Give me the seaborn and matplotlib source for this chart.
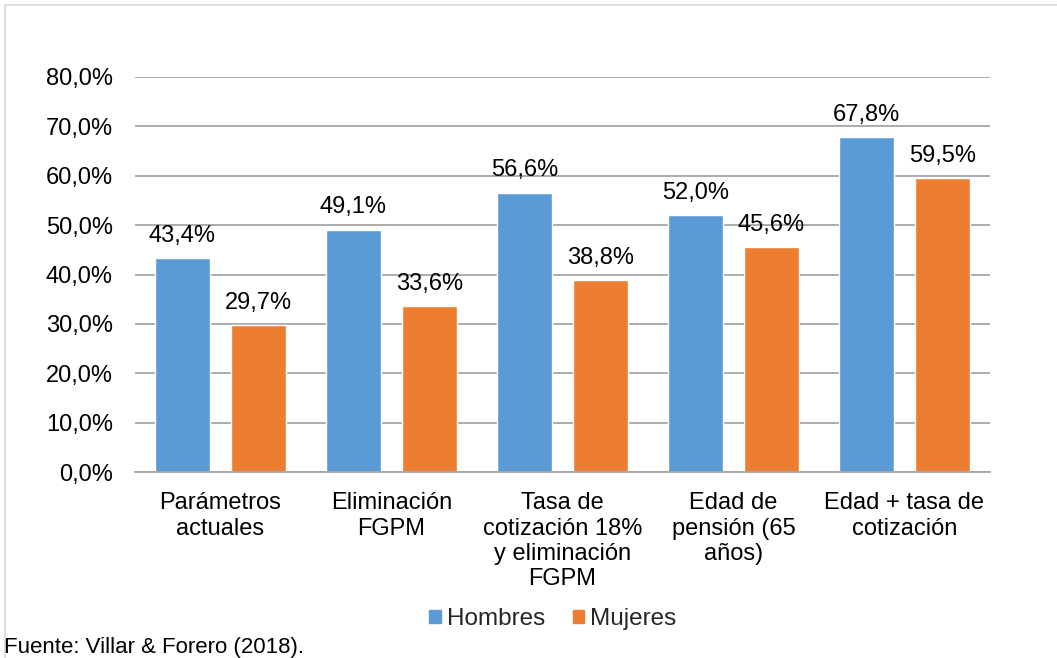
import matplotlib
matplotlib.use("Agg")
import matplotlib.pyplot as plt
import seaborn as sns
import pandas as pd
from matplotlib.patches import Rectangle
from matplotlib.lines import Line2D
from matplotlib.ticker import FuncFormatter, MultipleLocator

categories = ["Parámetros\nactuales", "Eliminación\nFGPM",
              "Tasa de\ncotización 18%\ny eliminación\nFGPM",
              "Edad de\npensión (65\naños)", "Edad + tasa de\ncotización"]
hombres = [43.4, 49.1, 56.6, 52.0, 67.8]
mujeres = [29.7, 33.6, 38.8, 45.6, 59.5]
series = ["Hombres", "Mujeres"]
colors = ["#5B9BD5", "#ED7D31"]

df = pd.DataFrame({
    "cat": categories * 2,
    "serie": [series[0]] * len(categories) + [series[1]] * len(categories),
    "val": hombres + mujeres,
})

sns.set_theme(style="white")
plt.rcParams["font.family"] = ["Liberation Sans", "DejaVu Sans"]

fig = plt.figure(figsize=(10.57, 6.58), dpi=100)
ax = fig.add_axes([135 / 1057, 1 - 472 / 658, 855 / 1057, 395 / 658])

sns.barplot(data=df, x="cat", y="val", hue="serie", palette=colors,
            width=0.89, gap=0.28, ax=ax, legend=False, saturation=1)

ax.set_ylim(0, 80)
ax.set_xlim(-0.5, len(categories) - 0.5)
ax.yaxis.set_major_locator(MultipleLocator(10))
ax.yaxis.set_major_formatter(FuncFormatter(lambda v, p: f"{v:.1f}%".replace(".", ",")))
ax.grid(axis="y", color="#A6A6A6", linewidth=1.3)
ax.set_axisbelow(True)
for s in ["top", "right", "left"]:
    ax.spines[s].set_visible(False)
ax.spines["bottom"].set_color("#A6A6A6")
ax.spines["bottom"].set_linewidth(1.3)
ax.set_xlabel("")
ax.set_ylabel("")
ax.tick_params(axis="y", labelsize=17, pad=16, length=0, colors="black")
ax.tick_params(axis="x", labelsize=17, pad=14.5, length=0, colors="black")
for lbl in ax.get_xticklabels():
    lbl.set_linespacing(1.2)
    lbl.set_verticalalignment("top")

for cont in ax.containers:
    for bar in cont:
        h = bar.get_height()
        ax.annotate(f"{h:.1f}%".replace(".", ","),
                    (bar.get_x() + bar.get_width() / 2, h),
                    xytext=(0, 8), textcoords="offset points",
                    ha="center", va="bottom", fontsize=17, color="black")

# legend
handles = [Rectangle((0, 0), 1, 1, color=c) for c in colors]
fig.legend(handles, series, loc="center", bbox_to_anchor=(553 / 1057, 1 - 619 / 658),
           ncol=2, frameon=False, handlelength=0.47, handleheight=0.47,
           handletextpad=0.25, columnspacing=1.15,
           prop={"family": ["Liberation Sans Narrow", "Liberation Sans"], "size": 17.5})

# chart border (top and left edges visible)
fig.add_artist(Line2D([5 / 1057, 1], [1 - 5 / 658, 1 - 5 / 658],
                      transform=fig.transFigure, color="#D9D9D9", linewidth=1.2))
fig.add_artist(Line2D([5 / 1057, 5 / 1057], [0, 1 - 5 / 658],
                      transform=fig.transFigure, color="#D9D9D9", linewidth=1.2))

fig.text(4 / 1057, 1 - 648 / 658, "Fuente: Villar & Forero (2018).",
         ha="left", va="center", fontsize=16, color="black",
         family=["Liberation Sans Narrow", "Liberation Sans"])

fig.savefig("out.png", dpi=100, facecolor="white")
